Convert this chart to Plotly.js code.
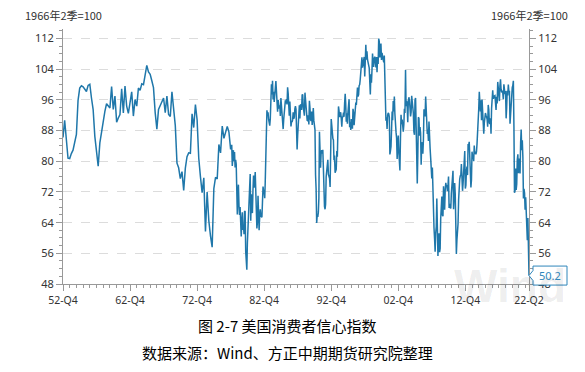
<!DOCTYPE html>
<html>
<head>
<meta charset="utf-8">
<script src="https://cdn.plot.ly/plotly-3.0.1.min.js"></script>
<style>html,body{margin:0;padding:0;background:#fff;}#chart{width:585px;height:372px;}</style>
</head>
<body>
<div id="chart"></div>
<script>
// Quarterly observations 1952-Q4 .. 1977-Q4
const quarterLabels = ["1952Q4","1953Q1","1953Q3","1953Q4","1954Q1","1954Q2","1954Q4","1955Q1","1955Q2","1955Q3","1955Q4",
"1956Q1","1956Q2","1956Q3","1956Q4","1957Q1","1957Q2","1957Q3","1957Q4","1958Q1","1958Q2","1958Q3","1958Q4",
"1959Q1","1959Q2","1959Q3","1959Q4","1960Q1","1960Q2","1960Q3","1960Q4","1961Q1","1961Q2","1961Q3","1961Q4",
"1962Q1","1962Q2","1962Q3","1962Q4","1963Q1","1963Q2","1963Q3","1963Q4","1964Q1","1964Q2","1964Q3","1964Q4",
"1965Q1","1965Q2","1965Q3","1965Q4","1966Q1","1966Q2","1966Q3","1966Q4","1967Q1","1967Q2","1967Q3","1967Q4",
"1968Q1","1968Q2","1968Q3","1968Q4","1969Q1","1969Q2","1969Q3","1969Q4","1970Q1","1970Q2","1970Q3","1970Q4",
"1971Q1","1971Q2","1971Q3","1971Q4","1972Q1","1972Q2","1972Q3","1972Q4","1973Q1","1973Q2","1973Q3","1973Q4",
"1974Q1","1974Q2","1974Q3","1974Q4","1975Q1","1975Q2","1975Q3","1975Q4","1976Q1","1976Q2","1976Q3","1976Q4",
"1977Q1","1977Q2","1977Q3","1977Q4"];
const quarterValues = [86.2,90.7,80.8,80.7,82.0,82.9,87.0,95.9,99.1,99.7,99.4,
98.8,98.2,99.8,100.1,96.5,93.5,86.5,82.5,78.7,84.8,88.0,90.9,
93.0,95.0,94.5,93.9,99.5,93.5,97.0,90.2,91.3,92.2,98.9,92.6,
99.6,94.4,92.5,95.5,98.1,91.8,96.1,94.4,99.1,98.5,100.2,100.0,
102.2,105.0,103.3,102.7,101.0,99.2,92.7,88.4,93.5,94.6,95.7,96.5,
92.7,97.0,92.2,91.7,98.1,93.0,89.3,79.5,78.3,75.5,77.3,72.4,
78.2,81.2,82.2,82.1,92.4,88.8,94.8,90.8,80.8,76.0,71.8,75.7,
61.7,72.0,64.5,60.5,57.6,72.9,75.8,75.4,84.4,82.2,89.2,86.0,
87.5,89.1,87.6,83.1];

// Monthly observations from 1978-01 to 2022-06
const monthlyStart = "1978-01";
const monthlyValues = [
83.7,84.3,78.8,81.6,82.9,80.0,82.4,78.4,80.4,79.3,75.0,66.1,
72.1,73.9,68.4,66.0,68.1,65.8,60.4,64.5,66.7,62.1,63.3,61.0,
67.0,66.9,56.5,52.7,51.7,58.7,62.3,67.3,73.7,75.0,76.7,64.5,
71.4,66.9,66.5,72.4,76.3,73.1,74.1,77.2,73.1,70.3,62.5,64.3,
71.0,66.5,62.0,65.5,67.5,65.7,65.4,65.4,69.3,73.4,72.1,71.9,
70.4,74.6,80.8,89.1,93.3,92.2,92.8,90.9,89.9,89.3,91.1,94.2,
100.1,97.4,101.0,96.1,98.1,95.5,96.6,99.1,100.9,96.3,95.7,92.9,
96.0,93.7,93.7,94.6,91.8,96.5,94.0,92.4,92.1,88.4,90.9,93.9,
95.6,95.9,95.1,96.2,94.8,99.3,97.7,94.9,91.9,95.6,91.4,89.1,
90.4,90.2,90.8,92.8,91.1,91.5,93.7,94.4,93.6,89.3,83.1,86.8,
90.8,91.6,94.6,91.2,94.8,94.7,93.4,97.4,97.3,94.1,93.0,91.9,
97.9,95.4,94.3,91.5,90.7,90.6,92.0,89.6,95.8,93.9,90.9,90.5,
93.0,89.5,91.3,93.9,90.6,88.3,88.2,76.4,72.8,63.9,66.0,65.5,
66.8,70.4,87.7,81.8,78.3,82.1,82.9,82.0,83.0,78.3,69.1,68.2,
67.5,68.8,76.0,77.2,79.2,80.4,76.6,76.1,75.6,73.3,85.3,91.0,
89.3,86.6,85.9,85.6,80.3,81.5,77.0,77.3,77.9,82.7,81.2,88.2,
94.3,93.2,91.5,92.6,92.8,91.2,89.0,91.7,91.5,92.7,91.6,95.1,
97.6,95.1,90.3,92.5,89.8,92.7,94.4,96.2,88.9,90.2,88.2,91.0,
89.3,88.5,93.7,92.7,89.4,92.4,94.7,95.3,94.7,96.5,99.2,96.9,
97.4,99.7,100.0,101.4,103.2,104.5,107.1,104.4,106.0,105.6,107.2,102.1,
106.6,110.4,106.5,108.7,106.5,105.6,105.2,104.4,100.9,97.4,102.7,100.5,
103.9,108.1,105.7,104.6,106.8,107.3,106.0,104.5,107.2,103.2,107.2,105.4,
112.0,111.3,107.1,109.2,110.7,106.4,108.3,107.3,106.8,105.8,107.6,98.4,
94.7,90.6,91.5,88.4,92.0,92.6,92.4,91.5,81.8,82.7,83.9,88.8,
93.0,90.7,95.7,93.0,96.9,92.4,88.1,87.6,86.1,80.6,84.2,86.7,
82.4,79.9,77.6,86.0,92.1,89.7,90.9,89.3,87.7,89.6,93.7,92.6,
103.8,94.4,95.8,94.2,90.2,95.6,96.7,95.9,94.2,91.7,92.8,97.1,
95.5,94.1,92.6,87.7,86.9,96.0,96.5,89.1,76.9,74.2,81.6,91.5,
91.2,86.7,88.9,87.4,79.1,84.9,84.7,82.0,85.4,93.6,92.1,91.7,
96.9,91.3,88.4,87.1,88.3,85.3,90.4,83.4,83.4,80.9,76.1,75.5,
78.4,70.8,69.5,62.6,59.8,56.4,61.2,63.0,70.3,57.6,55.3,60.1,
61.2,56.3,57.3,65.1,68.7,70.8,66.0,65.7,73.5,70.6,67.4,72.5,
74.4,73.6,73.6,72.2,73.6,76.0,67.8,68.9,68.2,67.7,71.6,74.5,
74.2,77.5,67.5,69.8,74.3,71.5,63.7,55.8,59.5,60.8,63.7,69.9,
75.0,75.3,76.2,76.4,79.3,73.2,72.3,74.3,78.3,82.6,82.7,72.9,
73.8,77.6,78.6,76.4,84.5,84.1,85.1,82.1,77.5,73.2,75.1,82.5,
81.2,81.6,80.0,84.1,81.9,82.5,81.8,82.5,84.6,86.9,88.8,93.6,
98.1,95.4,93.0,95.9,90.7,96.1,93.1,91.9,87.2,90.0,91.3,92.6,
92.0,91.7,91.0,89.0,94.7,93.5,90.0,89.8,91.2,87.2,93.8,98.2,
98.5,96.3,96.9,97.0,97.1,95.0,93.4,96.8,95.1,100.7,98.5,95.9,
95.7,99.7,101.4,98.8,98.0,98.2,97.9,96.2,100.1,98.6,97.5,98.3,
91.2,93.8,98.4,97.2,100.0,98.2,98.4,89.8,93.2,95.5,96.8,99.3,
99.8,101.0,89.1,71.8,72.3,78.1,72.5,74.1,80.4,81.8,76.9,80.7,
79.0,76.8,84.9,88.3,82.9,85.5,81.2,70.3,72.8,71.7,67.4,70.6,
67.2,62.8,59.4,65.2,58.4,50.2];

const tickLabels = ["52-Q4","62-Q4","72-Q4","82-Q4","92-Q4","02-Q4","12-Q4","22-Q2"];
const tickQuarters = ["1952Q4","1962Q4","1972Q4","1982Q4","1992Q4","2002Q4","2012Q4","2022Q2"];
const unitLabel = "1966年2季=100";
const lastLabel = "50.2";

function monthEnd(y, m) { // m 1-based
  const d = new Date(Date.UTC(y, m, 0));
  return d.toISOString().slice(0, 10);
}
function quarterEnd(q) {
  const y = parseInt(q.slice(0, 4)), n = parseInt(q.slice(5));
  return monthEnd(y, n * 3);
}
const xq = quarterLabels.map(quarterEnd);
const sy = parseInt(monthlyStart.slice(0, 4)), sm = parseInt(monthlyStart.slice(5));
const xm = monthlyValues.map((v, i) => {
  const t = sm - 1 + i;
  return monthEnd(sy + Math.floor(t / 12), (t % 12) + 1);
});
const xs = xq.concat(xm);
const ys = quarterValues.concat(monthlyValues);
const tickVals = tickQuarters.map(quarterEnd);

const lineColor = '#1f77aa';
const accent = '#2f86bb';
const yMin = 48, yMax = 114.5;
const lastVal = ys[ys.length - 1];
const yPaper = (lastVal - yMin) / (yMax - yMin);

const axisCommon = {
  range: [yMin, yMax], tick0: 48, dtick: 8, ticks: 'outside', ticklen: 6,
  tickcolor: '#999', showline: true, linecolor: '#999', linewidth: 1,
  zeroline: false, tickfont: {family: 'Noto Sans, DejaVu Sans, sans-serif', size: 11, color: '#333'},
  minor: {dtick: 2, tick0: 48, ticks: 'outside', ticklen: 3, tickcolor: '#999', showgrid: false},
  fixedrange: true
};

const traces = [
  {x: xs, y: ys, type: 'scatter', mode: 'lines', line: {color: lineColor, width: 1.5}, hoverinfo: 'skip', showlegend: false},
  {x: xs, y: ys, type: 'scatter', mode: 'lines', yaxis: 'y2', line: {color: 'rgba(0,0,0,0)', width: 0}, hoverinfo: 'skip', showlegend: false}
];

const layout = {
  width: 585, height: 372,
  margin: {l: 63, r: 56, t: 29, b: 88},
  paper_bgcolor: '#fff', plot_bgcolor: '#fff',
  showlegend: false,
  xaxis: {
    type: 'date', range: [xs[0], xs[xs.length - 1]],
    tickmode: 'array', tickvals: tickVals, ticktext: tickLabels,
    ticks: 'outside', ticklen: 6, tickcolor: '#999',
    showline: true, linecolor: '#999', linewidth: 1, showgrid: false, zeroline: false,
    tickfont: {family: 'Noto Sans, DejaVu Sans, sans-serif', size: 10.5, color: '#333'},
    minor: {tick0: '1952-12-31', dtick: 'M12', ticks: 'outside', ticklen: 3, tickcolor: '#999', showgrid: false},
    fixedrange: true
  },
  yaxis: Object.assign({}, axisCommon, {side: 'left', showgrid: true, gridcolor: '#dcdcdc', griddash: 'dash', gridwidth: 1}),
  yaxis2: Object.assign({}, axisCommon, {side: 'right', overlaying: 'y', showgrid: false}),
  shapes: [{
    type: 'path', xref: 'paper', yref: 'paper', xsizemode: 'pixel', ysizemode: 'pixel',
    xanchor: 1, yanchor: yPaper,
    path: 'M 0 0 L 4 5 L 4 9.5 L 38 9.5 L 38 -9.5 L 4 -9.5 L 4 -5 Z',
    line: {color: accent, width: 1}, fillcolor: '#fff', layer: 'above'
  }],
  annotations: [
    {xref: 'paper', yref: 'paper', x: 0.96, y: 0, yshift: -2, text: '<b>Wind</b>', showarrow: false,
     font: {family: 'Arial, Liberation Sans, sans-serif', size: 46, color: 'rgba(0,0,0,0.07)'}, xanchor: 'center', yanchor: 'middle'},
    {xref: 'paper', yref: 'paper', x: 0, y: 1, yshift: 14, text: unitLabel, showarrow: false,
     font: {family: 'Noto Sans CJK SC, sans-serif', size: 11, color: '#333'}, xanchor: 'center', yanchor: 'middle'},
    {xref: 'paper', yref: 'paper', x: 1, y: 1, yshift: 14, text: unitLabel, showarrow: false,
     font: {family: 'Noto Sans CJK SC, sans-serif', size: 11, color: '#333'}, xanchor: 'center', yanchor: 'middle'},
    {xref: 'paper', yref: 'paper', x: 1, xshift: 21, y: yPaper, text: lastLabel, showarrow: false,
     font: {family: 'Noto Sans, sans-serif', size: 11, color: accent}, xanchor: 'center', yanchor: 'middle'},
    {xref: 'paper', yref: 'paper', x: 0.4828, y: -0.161, text: '图 2-7 美国消费者信心指数', showarrow: false,
     font: {family: 'Noto Sans CJK SC, sans-serif', size: 15, color: '#000'}, xanchor: 'center', yanchor: 'middle'},
    {xref: 'paper', yref: 'paper', x: 0.4828, y: -0.267, text: '数据来源：Wind、方正中期期货研究院整理', showarrow: false,
     font: {family: 'Noto Sans CJK SC, sans-serif', size: 15, color: '#000'}, xanchor: 'center', yanchor: 'middle'}
  ]
};

Plotly.newPlot('chart', traces, layout, {displayModeBar: false, staticPlot: true});
</script>
</body>
</html>
